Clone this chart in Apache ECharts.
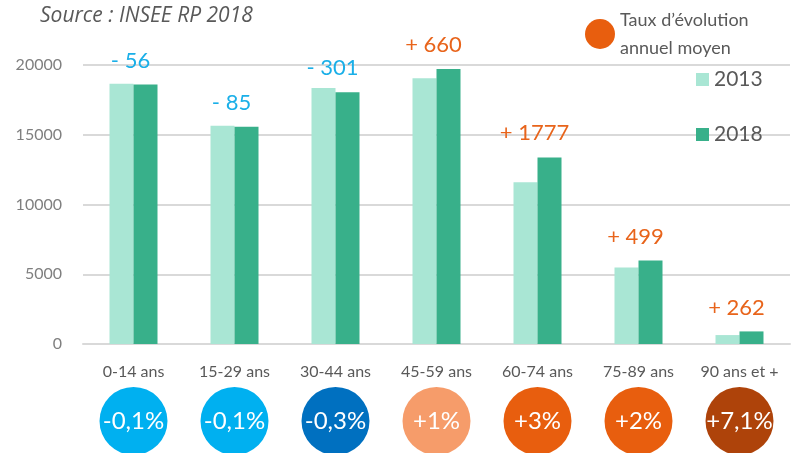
<!DOCTYPE html>
<html>
<head>
<meta charset="utf-8">
<script src="https://cdn.jsdelivr.net/npm/echarts@6/dist/echarts.min.js"></script>
<style>
  html, body { margin: 0; padding: 0; background: #fff; }
  #chart { width: 791px; height: 453px; }
</style>
</head>
<body>
<div id="chart"></div>
<script>
const categories = ['0-14 ans', '15-29 ans', '30-44 ans', '45-59 ans', '60-74 ans', '75-89 ans', '90 ans et +'];
const pop2013 = [18650, 15650, 18350, 19050, 11600, 5480, 640];
const pop2018 = [18594, 15565, 18049, 19710, 13377, 5979, 902];
const diffs = [-56, -85, -301, 660, 1777, 499, 262];
const rates = [-0.1, -0.1, -0.3, 1, 3, 2, 7.1];
const yTicks = [0, 5000, 10000, 15000, 20000];

const rateColors = ['#00B0F0', '#00B0F0', '#0070C0', '#F69C6A', '#E85E0E', '#E85E0E', '#AE430A'];
const font = 'Lato, "Open Sans", sans-serif';
const grey = '#595959';

const fmtDiff = d => (d < 0 ? '- ' + Math.abs(d) : '+ ' + d);
const fmtRate = r => (r > 0 ? '+' : '') + String(r).replace('.', ',') + '%';

const chart = echarts.init(document.getElementById('chart'));

const option = {
  backgroundColor: '#fff',
  textStyle: { fontFamily: font },
  title: {
    text: 'Source : INSEE RP 2018',
    left: 35,
    top: 1,
    textStyle: { fontFamily: '"Open Sans", sans-serif', fontStyle: 'italic', fontWeight: 'normal', fontSize: 21, color: grey }
  },
  legend: [
    {
      data: ['2013', '2018'],
      orient: 'vertical',
      left: 691,
      top: 64,
      itemWidth: 13,
      itemHeight: 13,
      itemGap: 34,
      icon: 'rect',
      textStyle: { fontFamily: font, fontSize: 21, color: grey }
    },
    {
      data: ['Taux d’évolution\nannuel moyen'],
      left: 580,
      top: 1,
      itemWidth: 30,
      itemHeight: 30,
      itemGap: 0,
      icon: 'circle',
      textStyle: { fontFamily: font, fontSize: 18, color: grey, lineHeight: 28 }
    }
  ],
  grid: [
    { left: 83, right: 1, top: 65, bottom: 109 },
    { left: 83, right: 1, top: 389, height: 68 }
  ],
  xAxis: [
    {
      type: 'category',
      data: categories,
      gridIndex: 0,
      axisLine: { lineStyle: { color: '#D9D9D9', width: 2 } },
      axisTick: { show: false },
      axisLabel: { color: grey, fontSize: 16, margin: 20, interval: 0, fontFamily: font }
    },
    {
      type: 'category',
      data: categories,
      gridIndex: 1,
      show: false
    }
  ],
  yAxis: [
    {
      type: 'value',
      gridIndex: 0,
      min: yTicks[0],
      max: yTicks[yTicks.length - 1],
      interval: 5000,
      axisLine: { show: false },
      axisTick: { show: false },
      axisLabel: { color: '#7F7F7F', fontSize: 16, margin: 21, fontFamily: font, formatter: v => String(v) },
      splitLine: { lineStyle: { color: '#D9D9D9', width: 2 } }
    },
    {
      type: 'value',
      gridIndex: 1,
      min: -1,
      max: 1,
      show: false
    }
  ],
  series: [
    {
      name: '2013',
      type: 'bar',
      barWidth: 24,
      barGap: '0%',
      itemStyle: { color: '#A9E6D4' },
      data: pop2013
    },
    {
      name: '2018',
      type: 'bar',
      barWidth: 24,
      barGap: '0%',
      itemStyle: { color: '#38B08A' },
      data: pop2018.map((v, i) => ({
        value: v,
        label: {
          show: true,
          position: 'top',
          distance: 13,
          offset: [-15, 0],
          formatter: fmtDiff(diffs[i]),
          color: diffs[i] < 0 ? '#1AAFE8' : '#E8641B',
          fontSize: 22,
          fontFamily: font
        }
      }))
    },
    {
      name: 'Taux d’évolution\nannuel moyen',
      type: 'scatter',
      xAxisIndex: 1,
      yAxisIndex: 1,
      symbol: 'circle',
      symbolSize: 68,
      itemStyle: { color: '#E85E0E', opacity: 1 },
      label: {
        show: true,
        position: 'inside',
        color: '#fff',
        fontSize: 24,
        fontFamily: font
      },
      data: rates.map((r, i) => ({
        value: [i, 0],
        itemStyle: { color: rateColors[i] },
        label: { formatter: fmtRate(r) }
      }))
    }
  ]
};

chart.setOption(option);
</script>
</body>
</html>
